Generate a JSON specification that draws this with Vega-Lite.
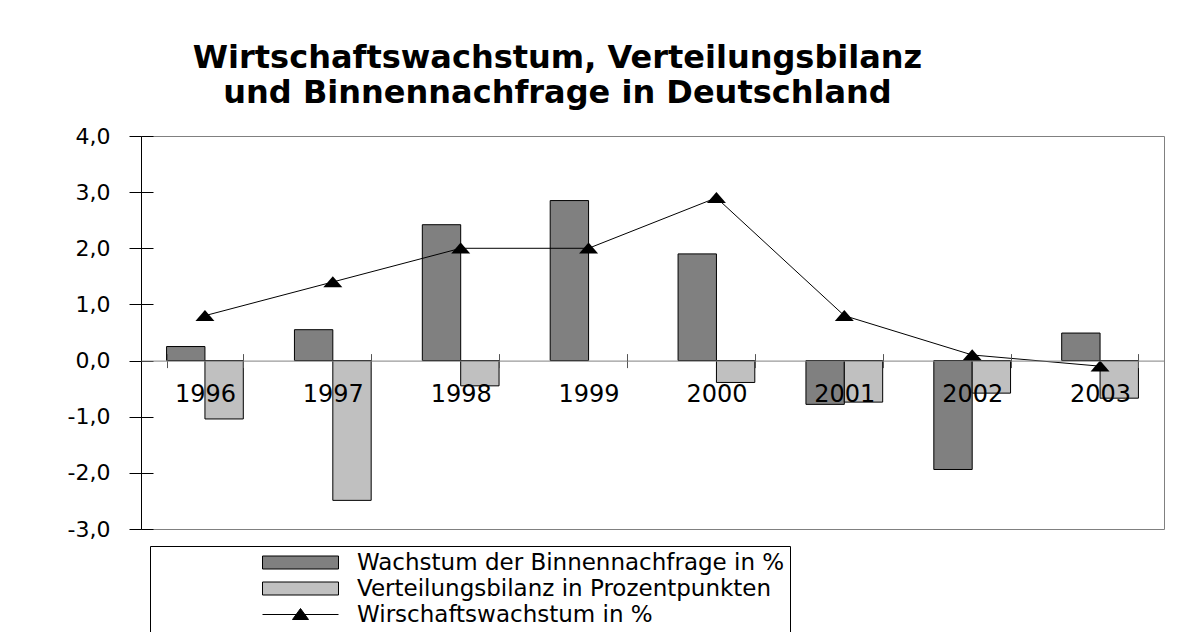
{
  "$schema": "https://vega.github.io/schema/vega-lite/v6.json",
  "width": 1023,
  "height": 393,
  "autosize": {"type": "none"},
  "padding": {"left": 141, "top": 136, "right": 14, "bottom": 103},
  "background": "white",
  "title": {
    "text": ["Wirtschaftswachstum, Verteilungsbilanz", "und Binnennachfrage in Deutschland"],
    "font": "DejaVu Sans",
    "fontSize": 32,
    "fontWeight": "bold",
    "color": "black",
    "lineHeight": 35,
    "anchor": "middle",
    "frame": "group",
    "dx": -95,
    "offset": -17,
    "baseline": "bottom"
  },
  "config": {
    "view": {"stroke": "#808080", "strokeWidth": 1},
    "font": "DejaVu Sans"
  },
  "resolve": {"axis": {"x": "independent", "y": "independent"}},
  "datasets": {
    "bars": [
      {"year": "1996", "series": "Wachstum der Binnennachfrage in %", "value": 0.25},
      {"year": "1997", "series": "Wachstum der Binnennachfrage in %", "value": 0.55},
      {"year": "1998", "series": "Wachstum der Binnennachfrage in %", "value": 2.42},
      {"year": "1999", "series": "Wachstum der Binnennachfrage in %", "value": 2.85},
      {"year": "2000", "series": "Wachstum der Binnennachfrage in %", "value": 1.9},
      {"year": "2001", "series": "Wachstum der Binnennachfrage in %", "value": -0.78},
      {"year": "2002", "series": "Wachstum der Binnennachfrage in %", "value": -1.94},
      {"year": "2003", "series": "Wachstum der Binnennachfrage in %", "value": 0.49},
      {"year": "1996", "series": "Verteilungsbilanz in Prozentpunkten", "value": -1.04},
      {"year": "1997", "series": "Verteilungsbilanz in Prozentpunkten", "value": -2.49},
      {"year": "1998", "series": "Verteilungsbilanz in Prozentpunkten", "value": -0.45},
      {"year": "2000", "series": "Verteilungsbilanz in Prozentpunkten", "value": -0.39},
      {"year": "2001", "series": "Verteilungsbilanz in Prozentpunkten", "value": -0.74},
      {"year": "2002", "series": "Verteilungsbilanz in Prozentpunkten", "value": -0.58},
      {"year": "2003", "series": "Verteilungsbilanz in Prozentpunkten", "value": -0.67}
    ],
    "growth": [
      {"year": "1996", "value": 0.8},
      {"year": "1997", "value": 1.4},
      {"year": "1998", "value": 2.0},
      {"year": "1999", "value": 2.0},
      {"year": "2000", "value": 2.9},
      {"year": "2001", "value": 0.8},
      {"year": "2002", "value": 0.1},
      {"year": "2003", "value": -0.1}
    ]
  },
  "layer": [
    {
      "data": {"name": "bars"},
      "mark": {"type": "bar", "stroke": "black", "strokeWidth": 1, "opacity": 1},
      "encoding": {
        "x": {
          "field": "year",
          "type": "nominal",
          "scale": {"paddingInner": 0.4, "paddingOuter": 0.2},
          "axis": {
            "title": null,
            "orient": "bottom",
            "offset": -168.4,
            "zindex": 1,
            "grid": false,
            "domainColor": "#808080",
            "domainWidth": 1,
            "tickColor": "#555555",
            "tickSize": 7,
            "tickBand": "extent",
            "labelAngle": 0,
            "labelFont": "DejaVu Sans",
            "labelFontSize": 24,
            "labelColor": "black",
            "labelPadding": 15
          }
        },
        "xOffset": {
          "field": "series",
          "type": "nominal",
          "scale": {"domain": ["Wachstum der Binnennachfrage in %", "Verteilungsbilanz in Prozentpunkten"]}
        },
        "y": {
          "field": "value",
          "type": "quantitative",
          "scale": {"domain": [-3, 4], "nice": false, "zero": false},
          "axis": {
            "title": null,
            "grid": false,
            "values": [-3, -2, -1, 0, 1, 2, 3, 4],
            "labelExpr": "(datum.value < 0 ? '-' : '') + replace(format(abs(datum.value), '.1f'), '.', ',')",
            "domainColor": "black",
            "tickColor": "black",
            "tickSize": 12,
            "labelPadding": 19,
            "labelFont": "DejaVu Sans",
            "labelFontSize": 22,
            "labelColor": "black"
          }
        },
        "color": {
          "field": "series",
          "type": "nominal",
          "scale": {
            "domain": ["Wachstum der Binnennachfrage in %", "Verteilungsbilanz in Prozentpunkten", "Wirschaftswachstum in %"],
            "range": ["#808080", "#c0c0c0", "#000000"]
          },
          "legend": {
            "orient": "none",
            "legendX": 9,
            "legendY": 410,
            "direction": "vertical",
            "title": null,
            "fillColor": "white",
            "strokeColor": "black",
            "padding": 5,
            "symbolSize": 400,
            "symbolOffset": 134,
            "labelOffset": 45,
            "labelFont": "DejaVu Sans",
            "labelFontSize": 23,
            "labelColor": "black",
            "labelLimit": 0,
            "rowPadding": 2,
            "symbolType": {"expr": "datum.value === 'Wirschaftswachstum in %' ? 'M-3.8,0H3.8M-0.8,0.5L0,-0.6L0.8,0.5Z' : 'M-3.8,-0.65H3.8V0.65H-3.8Z'"},
            "symbolStrokeColor": "black",
            "symbolStrokeWidth": 1
          }
        }
      }
    },
    {
      "data": {"name": "growth"},
      "mark": {
        "type": "line",
        "color": "black",
        "strokeWidth": 1,
        "point": {"shape": "M-1,0.55L0,-0.6L1,0.55Z", "size": 361, "filled": true, "color": "black", "opacity": 1}
      },
      "encoding": {
        "x": {
          "field": "year",
          "type": "nominal",
          "axis": {
            "orient": "top",
            "offset": -224.6,
            "title": null,
            "labels": false,
            "domain": false,
            "grid": false,
            "tickBand": "extent",
            "tickSize": 7,
            "tickColor": "#555555",
            "zindex": 1
          }
        },
        "y": {
          "field": "value",
          "type": "quantitative",
          "axis": {
            "orient": "right",
            "offset": -1023,
            "title": null,
            "labels": false,
            "domain": false,
            "grid": false,
            "values": [-3, -2, -1, 0, 1, 2, 3, 4],
            "tickSize": 12,
            "tickColor": "black"
          }
        }
      }
    }
  ]
}
